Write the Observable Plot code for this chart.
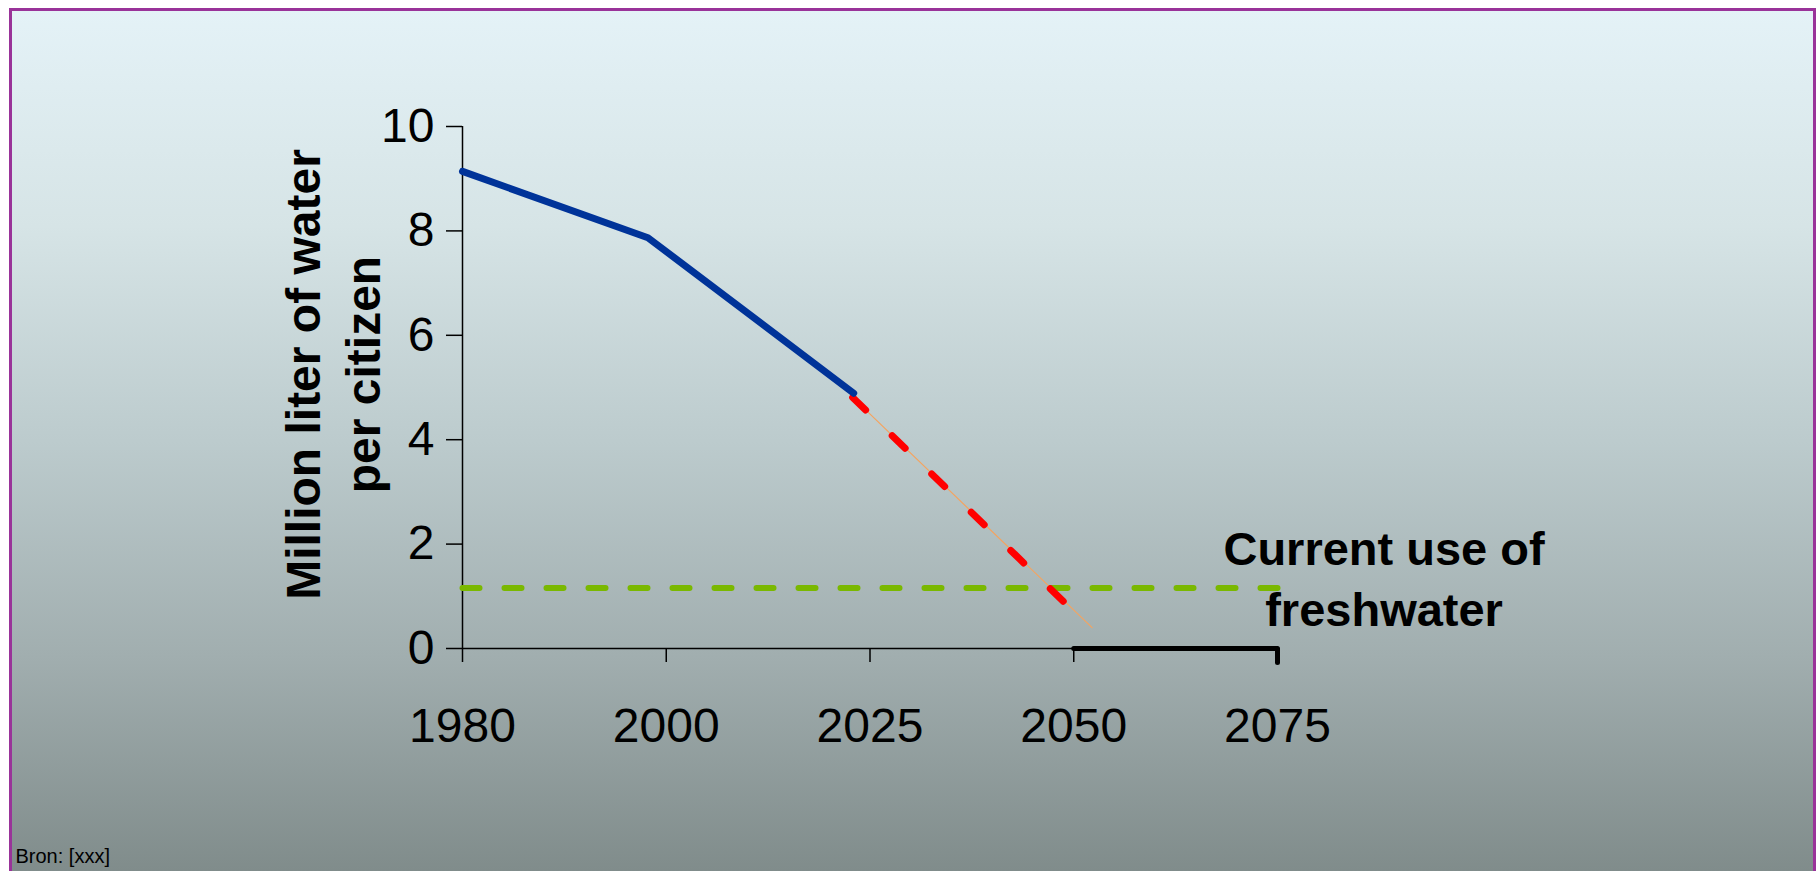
<!DOCTYPE html>
<html>
<head>
<meta charset="utf-8">
<script src="https://cdn.jsdelivr.net/npm/d3@7"></script>
<script src="https://cdn.jsdelivr.net/npm/@observablehq/plot@0.6"></script>
<style>
  html, body { margin: 0; padding: 0; background: #ffffff; }
  #wrap { position: relative; width: 1816px; height: 871px; overflow: hidden; }
  #bg {
    position: absolute; left: 9px; top: 8px; width: 1807px; height: 863px;
    box-sizing: border-box;
    border-left: 3px solid #993399; border-top: 3px solid #993399; border-right: 3px solid #993399;
    background: linear-gradient(to bottom, #e4f2f7 0%, #d6e4e6 25%, #bccbcd 50%, #a1aeaf 75%, #808c8b 100%);
  }
  #chart { position: absolute; left: 0; top: 0; }
  #chart svg { background: transparent; overflow: visible; }
</style>
</head>
<body>
<div id="wrap"><div id="bg"></div><div id="chart"></div></div>
<script>
// Category axis (equally spaced labels)
const xLabels = ["1980", "2000", "2025", "2050", "2075"];
const xTickPos = [0, 1, 2, 3, 4];
const yTicks = [0, 2, 4, 6, 8, 10];

// Observed availability (blue), positions along the category axis
const observedPos = [0, 0.91, 1.92];
const observedVal = [9.14, 7.87, 4.89];

// Projection (red dashed) and its thin trend line (orange)
const projectedPos = [1.915, 2.995];
const projectedVal = [4.81, 0.73];
const trendPos = [1.915, 3.09];
const trendVal = [4.81, 0.40];

// Current use of freshwater (green dashed)
const currentUsePos = [0, 4.01];
const currentUseVal = [1.16, 1.16];

// Shortage period (black thick segment on the axis, with end hook)
const shortagePos = [3, 4, 4];
const shortageVal = [0, 0, -0.27];

const toRows = (xs, ys) => xs.map((x, i) => ({x, y: ys[i]}));
const observed = toRows(observedPos, observedVal);
const projected = toRows(projectedPos, projectedVal);
const trend = toRows(trendPos, trendVal);
const currentUse = toRows(currentUsePos, currentUseVal);
const shortage = toRows(shortagePos, shortageVal);

const font = "'Liberation Sans', Arial, Helvetica, sans-serif";

const chart = Plot.plot({
  width: 1816,
  height: 871,
  marginLeft: 462,
  marginRight: 539,
  marginTop: 126,
  marginBottom: 223,
  style: {fontFamily: font, background: "transparent", color: "#000"},
  x: {domain: [0, 4], axis: null},
  y: {domain: [0, 10], axis: null},
  marks: [
    Plot.axisY({ticks: yTicks, tickSize: 16, tickPadding: 12, fontSize: 48, label: null, stroke: "#000", strokeWidth: 1.5, fill: "#000"}),
    Plot.axisX({ticks: xTickPos, tickFormat: i => xLabels[i], tickSize: 14, tickPadding: 45, fontSize: 48, label: null, stroke: "#000", strokeWidth: 1.5, fill: "#000"}),
    Plot.ruleX([0], {y1: 0, y2: 10, stroke: "#000", strokeWidth: 1.5}),
    Plot.ruleY([0], {x1: 0, x2: 4, stroke: "#000", strokeWidth: 1.5}),
    Plot.line(currentUse, {x: "x", y: "y", stroke: "#7ab800", strokeWidth: 6, strokeDasharray: "17,25", strokeLinecap: "round"}),
    Plot.line(trend, {x: "x", y: "y", stroke: "#f4a460", strokeWidth: 1.2}),
    Plot.line(projected, {x: "x", y: "y", stroke: "#ff0000", strokeWidth: 7, strokeDasharray: "18,37", strokeLinecap: "round"}),
    Plot.line(observed, {x: "x", y: "y", stroke: "#003399", strokeWidth: 7, strokeLinecap: "round", strokeLinejoin: "round"}),
    Plot.line(shortage, {x: "x", y: "y", stroke: "#000", strokeWidth: 5, strokeLinecap: "round", strokeLinejoin: "round"}),
    Plot.text(["Current use of\nfreshwater"], {x: 4.523, y: 0.44, text: d => d, fontSize: 47, fontWeight: "bold", textAnchor: "middle", lineAnchor: "bottom", lineHeight: 1.28, fill: "#000"}),
    Plot.text(["Million liter of water\nper citizen"], {frameAnchor: "left", text: d => d, rotate: -90, dx: -132, dy: -13, fontSize: 48, fontWeight: "bold", textAnchor: "middle", lineAnchor: "middle", lineHeight: 1.25, fill: "#000"}),
    Plot.text(["Bron: [xxx]"], {frameAnchor: "bottom-left", text: d => d, dx: -447, dy: 214, fontSize: 20, textAnchor: "start", lineAnchor: "bottom", fill: "#000"})
  ]
});
document.getElementById("chart").appendChild(chart);
</script>
</body>
</html>
